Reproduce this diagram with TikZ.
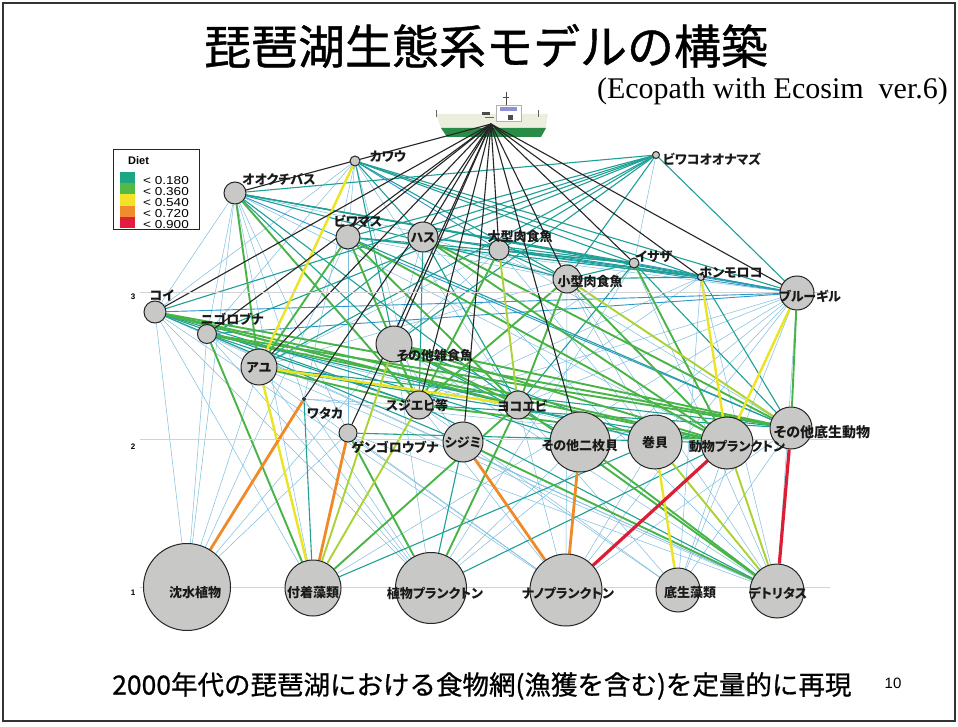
\documentclass[tikz,border=0pt]{standalone}
\usepackage{fontspec}
\newfontfamily\jp{Noto Sans CJK JP}
\newfontfamily\jpt[FakeBold=0.8]{Noto Sans CJK JP}
\newfontfamily\jpl[RawFeature=+palt]{Noto Sans CJK JP}
\newfontfamily\lat{Liberation Sans}
\newfontfamily\rom{Liberation Serif}
\pgfdeclarelayer{web}
\pgfsetlayers{web,main}
% diet-fraction colour classes
\definecolor{cA}{RGB}{125,190,222}
\definecolor{cB}{RGB}{45,150,205}
\definecolor{cT}{RGB}{30,160,150}
\definecolor{cG}{RGB}{72,180,72}
\definecolor{cL}{RGB}{170,210,50}
\definecolor{cY}{RGB}{236,228,34}
\definecolor{cO}{RGB}{240,138,40}
\definecolor{cR}{RGB}{220,30,52}
\definecolor{grpfill}{RGB}{200,200,198}
\definecolor{legT}{RGB}{30,165,130}
\definecolor{legG}{RGB}{85,185,70}
\definecolor{legY}{RGB}{245,225,40}
\definecolor{legO}{RGB}{240,140,45}
\definecolor{legR}{RGB}{225,30,60}
\definecolor{hullG}{RGB}{40,140,70}
\definecolor{hullW}{RGB}{236,239,222}
\newcommand{\legwide}[1]{\scalebox{1.18}[1]{#1}}
\begin{document}
\begin{tikzpicture}[x=1pt,y=-1pt,
  grp/.style={circle, draw=black!85, line width=1pt, fill=grpfill, inner sep=0pt, minimum size=#1},
  lbl/.style={font=\jpl\bfseries\fontsize{13}{13}\selectfont, inner sep=0pt, text=black!90},
  eA/.style={draw=cA, line width=0.5pt},
  eB/.style={draw=cB, line width=0.9pt},
  eT/.style={draw=cT, line width=1.1pt},
  eG/.style={draw=cG, line width=1.9pt},
  eL/.style={draw=cL, line width=1.9pt},
  eY/.style={draw=cY, line width=2.4pt},
  eO/.style={draw=cO, line width=2.8pt},
  eR/.style={draw=cR, line width=3.2pt},
  eK/.style={draw=black!85, line width=1.1pt},
  grid/.style={draw=gray!35, line width=0.6pt},
  axl/.style={font=\lat\bfseries\fontsize{8}{8}\selectfont, inner sep=0pt},
  legtxt/.style={font=\lat\fontsize{11.5}{9}\selectfont, inner sep=0pt, anchor=west}]

\useasboundingbox (0,0) rectangle (958,727);
\draw[line width=1.6pt, black!80] (3,3) rectangle (955,721);

% headings
\node (title) [font=\jpt\fontsize{47}{47}\selectfont, inner sep=0pt] at (486,46) {琵琶湖生態系モデルの構築};
\node (sub) [font=\rom\fontsize{30}{30}\selectfont, inner sep=0pt, anchor=east] at (948,91) {(Ecopath with Ecosim\ \ ver.6)};
\node (foot) [font=\jpt\fontsize{26.5}{26.5}\selectfont, inner sep=0pt, anchor=west] at (112,686) {2000年代の琵琶湖における食物網(漁獲を含む)を定量的に再現};
\node (pageno) [font=\lat\fontsize{15}{15}\selectfont, inner sep=0pt] at (893,683) {10};

% trophic level guides
\draw[grid] (140,292) -- (830,292);
\draw[grid] (140,439) -- (830,439);
\draw[grid] (140,587) -- (830,587);
\node (tl3) [axl] at (133,297) {3};
\node (tl2) [axl] at (133,447) {2};
\node (tl1) [axl] at (133,593) {1};

% legend
\draw[line width=0.9pt, black!85] (113,149) rectangle (199,229);
\node (diet) [font=\lat\bfseries\fontsize{11}{11}\selectfont, inner sep=0pt, anchor=west] at (128,161) {Diet};
\fill[legT] (120,172) rectangle (135,183.2);
\fill[legG] (120,183.2) rectangle (135,194.4);
\fill[legY] (120,194.4) rectangle (135,205.6);
\fill[legO] (120,205.6) rectangle (135,216.8);
\fill[legR] (120,216.8) rectangle (135,228);
\node (l1) [legtxt] at (143,181) {\legwide{< 0.180}};
\node (l2) [legtxt] at (143,192) {\legwide{< 0.360}};
\node (l3) [legtxt] at (143,203) {\legwide{< 0.540}};
\node (l4) [legtxt] at (143,214) {\legwide{< 0.720}};
\node (l5) [legtxt] at (143,225) {\legwide{< 0.900}};

% functional groups
\node (kw) [grp=10] at (355,161) {};
\node (nm) [grp=7] at (656,155) {};
\node (bs) [grp=22] at (235,193) {};
\node (bm) [grp=24] at (348,237) {};
\node (hs) [grp=30] at (423,237) {};
\node (og) [grp=20] at (499,250) {};
\node (kg) [grp=28] at (567,279) {};
\node (is) [grp=10] at (634,263) {};
\node (hm) [grp=7] at (701,277) {};
\node (bg) [grp=34] at (797,293) {};
\node (ko) [grp=22] at (155,312) {};
\node (ng) [grp=19] at (207,334) {};
\node (ay) [grp=36] at (259,367) {};
\node (zt) [grp=36] at (394,344) {};
\node (wt) [circle, fill=black!80, inner sep=0pt, minimum size=4] at (304,399) {};
\node (gg) [grp=18] at (348,433) {};
\node (sj) [grp=28] at (419,405) {};
\node (yk) [grp=28] at (518,405) {};
\node (sh) [grp=40] at (463,442) {};
\node (ni) [grp=60] at (580,442) {};
\node (mk) [grp=54] at (655,442) {};
\node (dp) [grp=52] at (727,443) {};
\node (tb) [grp=42] at (791,428) {};
\node (cs) [grp=87] at (187,587) {};
\node (fc) [grp=56] at (313,588) {};
\node (pp) [grp=71] at (431,588) {};
\node (np) [grp=72] at (566,590) {};
\node (ts) [grp=44] at (678,590) {};
\node (de) [grp=54] at (777,591) {};

% group names
\node (kw-l) [lbl] at (388,157) {カワウ};
\node (nm-l) [lbl] at (712,159) {ビワコオオナマズ};
\node (bs-l) [lbl] at (279,179) {オオクチバス};
\node (bm-l) [lbl] at (358,221) {ビワマス};
\node (hs-l) [lbl] at (423,238) {ハス};
\node (og-l) [lbl] at (520,237) {大型肉食魚};
\node (kg-l) [lbl] at (590,282) {小型肉食魚};
\node (is-l) [lbl] at (654,257) {イサザ};
\node (hm-l) [lbl] at (731,273) {ホンモロコ};
\node (bg-l) [lbl] at (810,296) {ブルーギル};
\node (ko-l) [lbl] at (162,295) {コイ};
\node (ng-l) [lbl] at (232,319) {ニゴロブナ};
\node (ay-l) [lbl] at (259,368) {アユ};
\node (zt-l) [lbl] at (435,356) {その他雑食魚};
\node (wt-l) [lbl] at (325,413) {ワタカ};
\node (gg-l) [lbl] at (395,447) {ゲンゴロウブナ};
\node (sj-l) [lbl] at (417,405) {スジエビ等};
\node (yk-l) [lbl] at (522,406) {ヨコエビ};
\node (sh-l) [lbl] at (463,443) {シジミ};
\node (ni-l) [lbl] at (580,446) {その他二枚貝};
\node (mk-l) [lbl] at (655,443) {巻貝};
\node (dp-l) [lbl] at (737,447) {動物プランクトン};
\node (tb-l) [lbl,font=\jpl\bfseries\fontsize{14}{14}\selectfont] at (822,432) {その他底生動物};
\node (cs-l) [lbl] at (195,593) {沈水植物};
\node (fc-l) [lbl] at (313,593) {付着藻類};
\node (pp-l) [lbl] at (435,593) {植物プランクトン};
\node (np-l) [lbl] at (568,593) {ナノプランクトン};
\node (ts-l) [lbl] at (690,593) {底生藻類};
\node (de-l) [lbl] at (778,593) {デトリタス};

\coordinate (S) at (491,124);

\begin{pgfonlayer}{web}
\fill[white] (0,0) rectangle (958,727);
% fishing boat
\fill[hullW] (436,114) -- (548,114) -- (545,131) -- (442,131) -- cycle;
\fill[hullG] (441,128) -- (546,128) -- (541,137) -- (447,137) -- cycle;
\fill[white, draw=gray!60, line width=0.4pt] (496,105) rectangle (521,121);
\fill[gray!55!blue!60] (500,107) rectangle (517,111);
\fill[black!70] (508,115) rectangle (513,120);
\draw[black!70, line width=0.8pt] (506,92) -- (506,105);
\draw[black!70, line width=0.6pt] (503,97) -- (509,97);
\fill[black!70] (482,112) rectangle (490,115);
\fill[black!60] (485,117) rectangle (494,118.5);
\draw[black!60, line width=0.6pt] (436,110) -- (436,117);
\draw[black!60, line width=0.6pt] (538,110) -- (538,117);

% diet links, weakest first
\foreach \p/\q in {kw/sj, kw/yk, kw/ko, kw/wt, kw/ng, kw/bm, nm/is, bs/og, bs/ng, bs/ko,
  bs/wt, bs/gg, bs/dp, bs/cs, bm/kg, bm/bg, bm/gg, hs/kg, hs/zt, hs/de, og/ay, og/zt,
  og/tb, kg/ay, kg/mk, is/sj, is/pp, hm/yk, hm/sj, hm/de, bg/yk, bg/sj, bg/mk, bg/de,
  bg/fc, bg/ts, bg/np, ko/fc, ko/de, ko/pp, ng/de, ng/pp, ng/mk, ay/pp, ay/de, zt/pp,
  zt/de, zt/cs, wt/pp, wt/sj, wt/dp, gg/de, gg/cs, sj/np, yk/np, yk/ts, sh/ts, ni/pp,
  tb/ts, tb/np, ko/np, zt/np, ng/np, sj/ts, dp/ts, gg/np, ay/cs, bm/cs, bs/fc, og/de,
  kg/de, kg/np, is/de, mk/np, hm/ts, bg/pp, ko/cs, ng/cs}
  \draw[eA] (\p) -- (\q);
\foreach \p/\q in {ko/bg, ng/bg, og/bg, is/bg, hm/bg, kw/og, bs/tb}
  \draw[eB] (\p) -- (\q);
\foreach \p/\q in {kw/hs, kw/zt, kw/kg, kw/is, kw/hm, kw/bg, nm/bs, nm/bm, nm/ko, nm/ng,
  nm/hs, nm/zt, nm/og, nm/kg, nm/ay, nm/bg, bs/bg, bs/hm, bs/is, bs/kg, bs/yk, bs/zt,
  bm/is, bm/hm, bm/tb, hs/ay, hs/is, hs/hm, hs/sj, hs/yk, og/kg, og/is, og/hm, kg/is,
  kg/hm, is/tb, is/yk, hm/tb, ko/sj, ko/mk, ko/ni, ko/sh, ng/yk, ng/sj, ay/dp, ay/tb,
  zt/sj, zt/mk, zt/ni, wt/fc, gg/dp, sj/tb, sj/de, sh/pp, mk/fc, dp/pp}
  \draw[eT] (\p) -- (\q);
\foreach \p/\q in {bs/ay, bs/sj, bm/ay, bm/sj, bm/yk, bm/dp, hs/dp, hs/tb, og/sj, kg/sj,
  kg/yk, kg/dp, is/dp, bg/tb, ko/tb, ko/dp, ko/yk, ng/dp, ng/tb, ng/fc, ay/sj, zt/tb,
  zt/dp, zt/yk, gg/pp, sj/dp, yk/pp, yk/fc, yk/de, sh/de, ni/de}
  \draw[eG] (\p) -- (\q);
\foreach \p/\q in {og/yk, kg/tb, zt/fc, sj/fc, dp/de, mk/de}
  \draw[eL] (\p) -- (\q);
\foreach \p/\q in {kw/ay, hm/dp, bg/dp, ay/yk, ay/fc, mk/ts}
  \draw[eY] (\p) -- (\q);
\foreach \p/\q in {wt/cs, gg/fc, sh/np, ni/np}
  \draw[eO] (\p) -- (\q);
\foreach \p/\q in {dp/np, tb/de}
  \draw[eR] (\p) -- (\q);

% catches by the fishery
\foreach \q in {bs, bm, hs, og, kg, is, hm, bg, ko, ng, ay, zt, wt, gg, sj, sh, ni}
  \draw[eK] (S) -- (\q);
\end{pgfonlayer}
\end{tikzpicture}
\end{document}
